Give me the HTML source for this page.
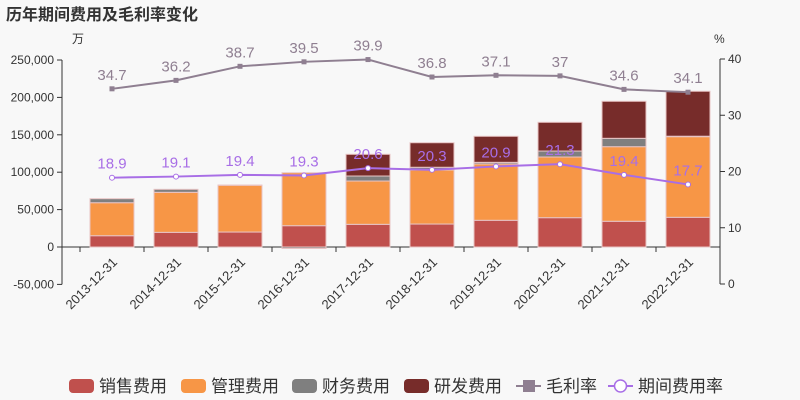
<!DOCTYPE html>
<html><head><meta charset="utf-8"><style>
body{margin:0;background:#f8f8f8;font-family:"Liberation Sans","Noto Sans CJK SC",sans-serif}
svg{display:block}
</style></head><body>
<svg id="c" width="800" height="400" xmlns="http://www.w3.org/2000/svg">
<rect width="800" height="400" fill="#f8f8f8"/>
<text x="6" y="20" font-size="16" font-weight="bold" fill="#333">历年期间费用及毛利率变化</text>
<text x="72" y="43" font-size="12" fill="#333">万</text>
<text x="714" y="43" font-size="12" fill="#333">%</text>
<g id="g"></g>
</svg>
<script>
const categories=["2013-12-31","2014-12-31","2015-12-31","2016-12-31","2017-12-31","2018-12-31","2019-12-31","2020-12-31","2021-12-31","2022-12-31"];
const sales=[15100,19600,20000,28500,30300,30700,35700,39200,34400,39700];
const mgmt=[44100,53500,62500,70800,57900,72200,75300,81100,99700,107800];
const fin=[5400,4000,300,-2000,6700,3700,2200,8000,11200,600];
const rd=[0,0,0,0,29000,32800,34800,38400,49500,60100];
const gross=[34.7,36.2,38.7,39.5,39.9,36.8,37.1,37,34.6,34.1];
const period=[18.9,19.1,19.4,19.3,20.6,20.3,20.9,21.3,19.4,17.7];
const leftTicks=[-50000,0,50000,100000,150000,200000,250000];
const rightTicks=[0,10,20,30,40];
const NS="http://www.w3.org/2000/svg";
const g=document.getElementById('g');
function el(t,a){const e=document.createElementNS(NS,t);for(const k in a)e.setAttribute(k,a[k]);g.appendChild(e);return e;}
const X0=80,X1=720,band=(X1-X0)/categories.length;
const xc=i=>X0+band*(i+0.5);
const yL=v=>247-v*(187/250000);
const yR=v=>284-v*(225/40);
let a=el('line',{x1:62,y1:yL(-50000),x2:62,y2:yL(250000),stroke:'#333'});

a=el('line',{x1:720,y1:yR(0),x2:720,y2:yR(40),stroke:'#333'});

a=el('line',{x1:62,y1:yL(0),x2:720,y2:yL(0),stroke:'#333'});

leftTicks.forEach(v=>{const y=yL(v);el('line',{x1:57,y1:y,x2:62,y2:y,stroke:'#333'});
 const t=el('text',{x:54,y:y+4,'text-anchor':'end','font-size':12,fill:'#333'});t.textContent=v.toLocaleString('en-US');
 });
rightTicks.forEach(v=>{const y=yR(v);el('line',{x1:720,y1:y,x2:725,y2:y,stroke:'#333'});
 const t=el('text',{x:728,y:y+4,'font-size':12,fill:'#333'});t.textContent=v;
 });
categories.forEach((c,i)=>{const x=X0+band*i;el('line',{x1:x,y1:yL(0),x2:x,y2:yL(0)+5,stroke:'#333'});
 const t=el('text',{x:xc(i)+6,y:263,'text-anchor':'end','font-size':13,fill:'#333',transform:`rotate(-45 ${xc(i)+6} 263)`});t.textContent=c;
 });
el('line',{x1:X1,y1:yL(0),x2:X1,y2:yL(0)+5,stroke:'#333'});
const series=[[sales,'#c0504d','sales'],[mgmt,'#f79646','mgmt'],[fin,'#7f7f7f','fin'],[rd,'#772c2a','rd']];
categories.forEach((c,i)=>{let pos=0,neg=0;
 series.forEach(([arr,col,nm])=>{const v=arr[i];let y0,y1;
  if(v>=0){y0=yL(pos);pos+=v;y1=yL(pos);}else{y0=yL(neg);neg+=v;y1=yL(neg);}
  if(v===0)return;
  const r=el('rect',{x:xc(i)-22,y:Math.min(y0,y1),width:44,height:Math.abs(y0-y1),fill:col,stroke:'#e8c4c4','stroke-width':1});
  });});
function line(arr,col,nm,marker){
 const p=el('polyline',{points:arr.map((v,i)=>xc(i)+','+yR(v)).join(' '),fill:'none',stroke:col,'stroke-width':2});
 
 arr.forEach((v,i)=>{let m;
  if(marker==='sq')m=el('rect',{x:xc(i)-2.5,y:yR(v)-2.5,width:5,height:5,fill:col});
  else m=el('circle',{cx:xc(i),cy:yR(v),r:2.5,fill:'#fff',stroke:col,'stroke-width':1});
  
  const t=el('text',{x:xc(i),y:yR(v)-9,'text-anchor':'middle','font-size':15,fill:col});t.textContent=v;
  });}
line(gross,'#8f7f91','gross-margin','sq');
line(period,'#a86ee6','period-expense-rate','c');
const leg=[['销售费用','#c0504d','r'],['管理费用','#f79646','r'],['财务费用','#7f7f7f','r'],['研发费用','#772c2a','r'],['毛利率','#8f7f91','ls'],['期间费用率','#a86ee6','lc']];
const lx=[69,181,292,404,516,608];
leg.forEach(([n,col,k],i)=>{const x=lx[i],y=386;
 if(k==='r'){const r=el('rect',{x:x,y:y-7,width:25,height:14,rx:4,fill:col});}
 else{el('line',{x1:x,y1:y,x2:x+25,y2:y,stroke:col,'stroke-width':2});
  if(k==='ls')el('rect',{x:x+7,y:y-6,width:12,height:12,fill:col});
  else el('circle',{cx:x+12.5,cy:y,r:6,fill:'#fff',stroke:col,'stroke-width':1.5});}
 const t=el('text',{x:x+30,y:y+6,'font-size':17,fill:'#333'});t.textContent=n;
 });
</script>
</body></html>
